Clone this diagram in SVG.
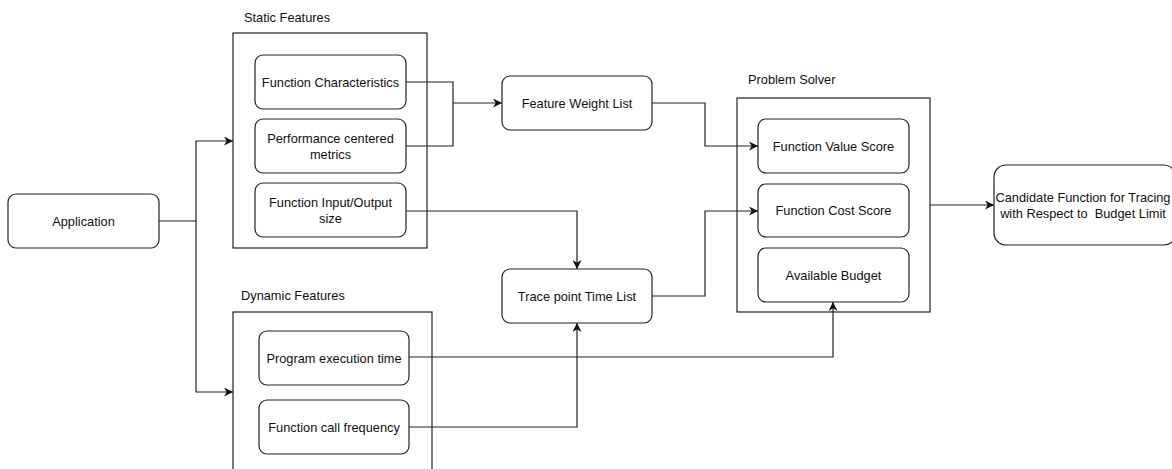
<svg xmlns="http://www.w3.org/2000/svg" width="1172" height="469" viewBox="0 0 1172 469">
<defs>
<marker id="arr" viewBox="0 0 10 10" refX="10" refY="5" markerWidth="9" markerHeight="9" markerUnits="userSpaceOnUse" orient="auto">
<path d="M0,0 L10,5 L0,10 L3,5 Z" fill="#111"/>
</marker>
</defs>
<style>
.box{fill:#fff;stroke:#222;stroke-width:1.2}
.cont{fill:none;stroke:#222;stroke-width:1.2}
.t{font-family:"Liberation Sans",Arial,sans-serif;font-size:12.8px;fill:#111;text-anchor:middle}
.lbl{font-family:"Liberation Sans",Arial,sans-serif;font-size:12.8px;fill:#111}
.c{fill:none;stroke:#222;stroke-width:1.2}
</style>
<rect width="1172" height="469" fill="#fff"/>
<g id="static-features">
<rect class="cont" x="233" y="33" width="194" height="215"/>
<text class="lbl" x="244" y="22">Static Features</text>
</g>
<g id="dynamic-features">
<rect class="cont" x="233" y="312" width="199" height="170"/>
<text class="lbl" x="241" y="300">Dynamic Features</text>
</g>
<g id="problem-solver">
<rect class="cont" x="737" y="98" width="193" height="214"/>
<text class="lbl" x="748" y="84">Problem Solver</text>
</g>
<g id="application">
<rect class="box" x="8" y="194" width="151" height="54" rx="8"/>
<text class="t" x="83.5" y="225.5">Application</text>
</g>
<g id="function-characteristics">
<rect class="box" x="255" y="55" width="151" height="54" rx="8"/>
<text class="t" x="330.5" y="86.5">Function Characteristics</text>
</g>
<g id="performance-metrics">
<rect class="box" x="255" y="119" width="151" height="54" rx="8"/>
<text class="t" x="330.5" y="142.5">Performance centered</text>
<text class="t" x="330.5" y="158.5">metrics</text>
</g>
<g id="function-io-size">
<rect class="box" x="255" y="183" width="151" height="54" rx="8"/>
<text class="t" x="330.5" y="206.5">Function Input/Output</text>
<text class="t" x="330.5" y="222.5">size</text>
</g>
<g id="program-execution-time">
<rect class="box" x="259" y="331" width="150" height="54" rx="8"/>
<text class="t" x="334" y="362.5">Program execution time</text>
</g>
<g id="function-call-frequency">
<rect class="box" x="259" y="400" width="150" height="54" rx="8"/>
<text class="t" x="334" y="431.5">Function call frequency</text>
</g>
<g id="feature-weight-list">
<rect class="box" x="502" y="76" width="150" height="54" rx="8"/>
<text class="t" x="577" y="107.5">Feature Weight List</text>
</g>
<g id="trace-point-time-list">
<rect class="box" x="502" y="269" width="150" height="54" rx="8"/>
<text class="t" x="577" y="300.5">Trace point Time List</text>
</g>
<g id="function-value-score">
<rect class="box" x="758" y="119" width="151" height="54" rx="8"/>
<text class="t" x="833.5" y="150.5">Function Value Score</text>
</g>
<g id="function-cost-score">
<rect class="box" x="758" y="184" width="151" height="53" rx="8"/>
<text class="t" x="833.5" y="214.5">Function Cost Score</text>
</g>
<g id="available-budget">
<rect class="box" x="758" y="248" width="151" height="54" rx="8"/>
<text class="t" x="833.5" y="279.5">Available Budget</text>
</g>
<g id="candidate-function">
<rect class="box" x="994" y="165" width="182" height="80" rx="12"/>
<text class="t" x="1083" y="202">Candidate Function for Tracing</text>
<text class="t" x="1083" y="218" style="white-space:pre" xml:space="preserve">with Respect to  Budget Limit</text>
</g>
<g id="connectors">
<path class="c" d="M159,221 H196 V141 H233" marker-end="url(#arr)"/>
<path class="c" d="M196,221 V392 H233" marker-end="url(#arr)"/>
<path class="c" d="M406,82 H453 V146 H406"/>
<path class="c" d="M453,103 H502" marker-end="url(#arr)"/>
<path class="c" d="M652,103 H705 V146 H758" marker-end="url(#arr)"/>
<path class="c" d="M406,211 H577 V269" marker-end="url(#arr)"/>
<path class="c" d="M652,296 H705 V211 H758" marker-end="url(#arr)"/>
<path class="c" d="M409,427 H577 V323" marker-end="url(#arr)"/>
<path class="c" d="M409,357 H833 V302" marker-end="url(#arr)"/>
<path class="c" d="M930,205 H994" marker-end="url(#arr)"/>
</g>
</svg>
